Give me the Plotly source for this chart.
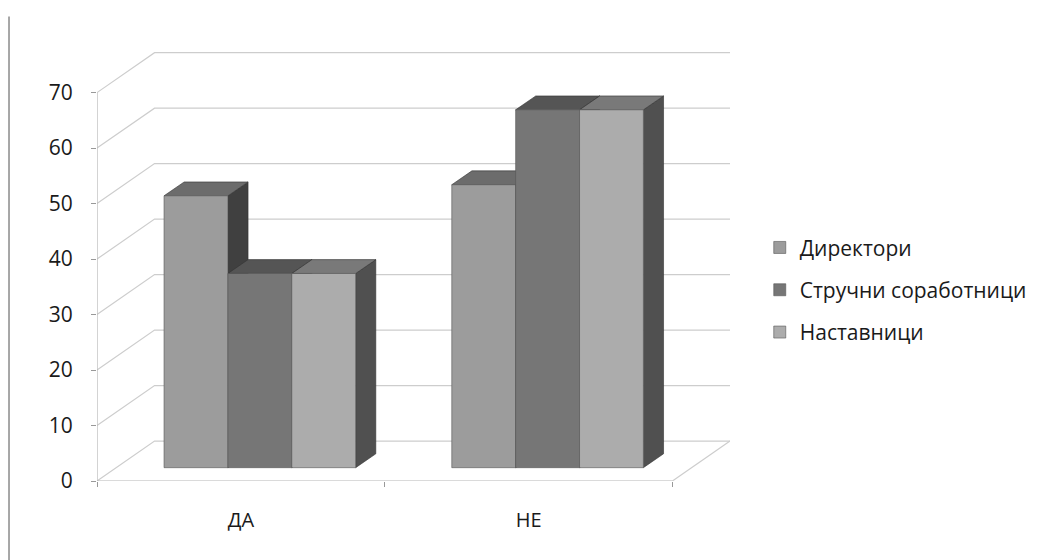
import plotly.graph_objects as go

# ---- data ----
categories = ["ДА", "НЕ"]
series_names = ["Директори", "Стручни соработници", "Наставници"]
direktori = [49, 51]
strucni = [35, 64.5]
nastavnici = [35, 64.5]
y_ticks = [0, 10, 20, 30, 40, 50, 60, 70]

series_values = [direktori, strucni, nastavnici]

# ---- style ----
front_colors = ["#9c9c9c", "#767676", "#acacac"]
top_colors = ["#6c6c6c", "#555555", "#797979"]
side_colors = ["#404040", "#3a3a3a", "#505050"]
FONT = "Open Sans"
TXT = "#1a1a1a"

# 3-D projection constants (axis units)
WALL_DX, WALL_DY = 0.2, 7.2      # back wall offset
BAR_DX0, BAR_DY0 = 0.066, 2.4    # bar front plane offset
DEPTH_DX, DEPTH_DY = 0.07, 2.5   # bar depth
BAR_W = 0.222
X_MIN, X_MAX = -0.5, len(categories) - 0.5

fig = go.Figure()
shapes = []

# back wall gridlines + side wall diagonals
for v in y_ticks:
    shapes.append(dict(type="path", layer="below", xref="x", yref="y",
                       path=f"M {X_MIN},{v} L {X_MIN + WALL_DX},{v + WALL_DY} L {X_MAX + WALL_DX},{v + WALL_DY}",
                       line=dict(color="#cdcdcd", width=1.2)))
# floor right diagonal
shapes.append(dict(type="line", layer="below", xref="x", yref="y",
                   x0=X_MAX, y0=0, x1=X_MAX + WALL_DX, y1=WALL_DY,
                   line=dict(color="#cdcdcd", width=1.2)))
# front axes
shapes.append(dict(type="line", layer="below", xref="x", yref="y",
                   x0=X_MIN, y0=0, x1=X_MAX, y1=0, line=dict(color="#b5b5b5", width=1.2)))
shapes.append(dict(type="line", layer="below", xref="x", yref="y",
                   x0=X_MIN, y0=0, x1=X_MIN, y1=max(y_ticks), line=dict(color="#b5b5b5", width=1.2)))

# bar depth faces (side + top), drawn in order so later bars occlude earlier ones
for ci in range(len(categories)):
    for si, vals in enumerate(series_values):
        xc = ci + BAR_DX0 + (si - 1) * BAR_W
        x0, x1 = xc - BAR_W / 2, xc + BAR_W / 2
        b = BAR_DY0
        t = BAR_DY0 + vals[ci]
        side = (f"M {x1},{b} L {x1 + DEPTH_DX},{b + DEPTH_DY} "
                f"L {x1 + DEPTH_DX},{t + DEPTH_DY} L {x1},{t} Z")
        top = (f"M {x0},{t} L {x0 + DEPTH_DX},{t + DEPTH_DY} "
               f"L {x1 + DEPTH_DX},{t + DEPTH_DY} L {x1},{t} Z")
        shapes.append(dict(type="path", layer="below", xref="x", yref="y", path=side,
                           fillcolor=side_colors[si], line=dict(color="#333333", width=0.6)))
        shapes.append(dict(type="path", layer="below", xref="x", yref="y", path=top,
                           fillcolor=top_colors[si], line=dict(color="#333333", width=0.6)))

# chart frame (left edge)
shapes.append(dict(type="line", xref="paper", yref="paper", x0=-0.139, x1=-0.139,
                   y0=1.08, y1=-0.19, line=dict(color="#8a8a8a", width=1.5)))

# bar front faces
for si, vals in enumerate(series_values):
    xs = [ci + BAR_DX0 + (si - 1) * BAR_W for ci in range(len(categories))]
    fig.add_trace(go.Bar(
        x=xs, y=vals, base=[BAR_DY0] * len(vals), width=BAR_W,
        name=series_names[si], legendgroup=f"g{si}",
        marker=dict(color=front_colors[si], line=dict(color="#555555", width=0.6)),
        hoverinfo="skip",
    ))

fig.update_layout(
    width=1055, height=560,
    margin=dict(l=97, r=325, t=51, b=79),
    paper_bgcolor="white", plot_bgcolor="white",
    barmode="overlay",
    shapes=shapes,
    font=dict(family=FONT, color=TXT),
    showlegend=True,
    legend=dict(x=1.047, xanchor="left", y=0.59, yanchor="top",
                font=dict(family=FONT, size=21, color=TXT),
                tracegroupgap=12, bgcolor="rgba(0,0,0,0)"),
    xaxis=dict(range=[X_MIN, X_MAX + WALL_DX], showgrid=False, zeroline=False, showline=False,
               tickmode="array", tickvals=list(range(len(categories))), ticktext=categories,
               ticks="", tickfont=dict(size=20, family=FONT, color=TXT),
               ticklabelstandoff=25,
               minor=dict(tickmode="array", tickvals=[i - 0.5 for i in range(len(categories) + 1)],
                          ticks="outside", ticklen=5, tickcolor="#999999", showgrid=False)),
    yaxis=dict(range=[0, 77.5], showgrid=False, zeroline=False, showline=False,
               tickmode="array", tickvals=y_ticks, ticks="outside", ticklen=5,
               tickcolor="#999999", tickfont=dict(size=21, family=FONT, color=TXT),
               ticklabelstandoff=14),
)

fig.write_html("out.html")
